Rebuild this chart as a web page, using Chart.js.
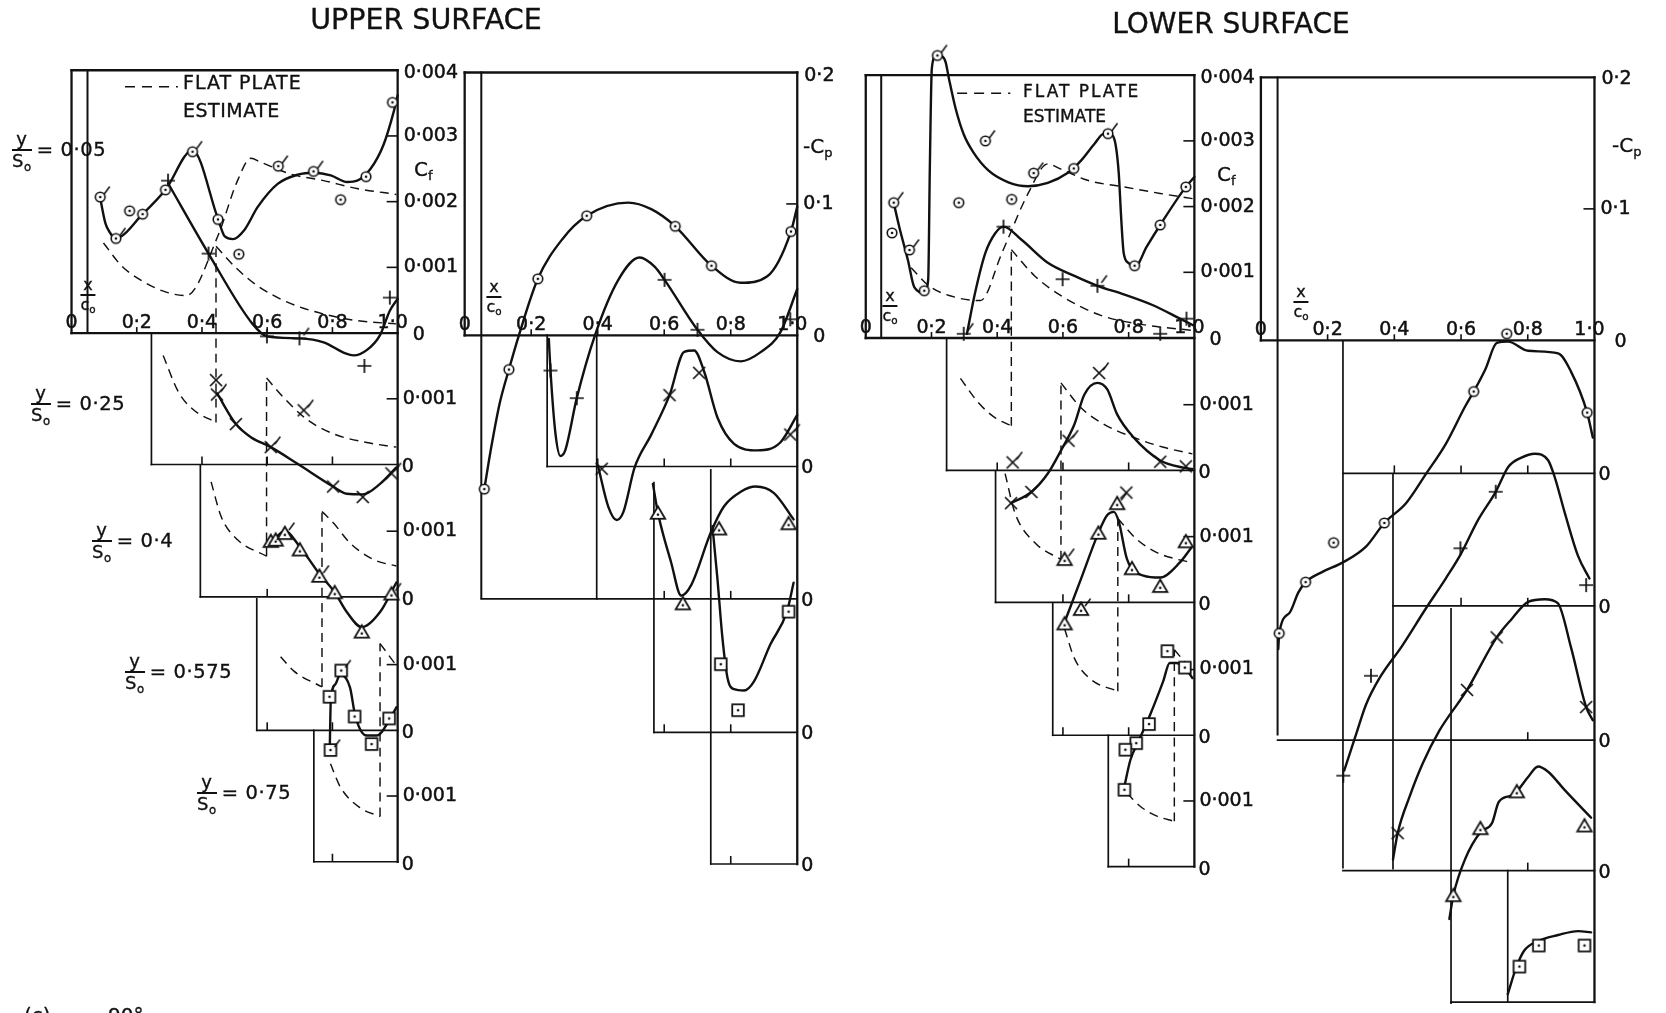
<!DOCTYPE html>
<html><head><meta charset="utf-8"><title>Skin friction and pressure distributions - upper and lower surface</title>
<script src="https://cdn.jsdelivr.net/npm/chart.js@4.4.1/dist/chart.umd.min.js"></script>
<style>
html,body{margin:0;padding:0;background:#fff;overflow:hidden}
#wrap{position:relative;width:1666px;height:1013px;overflow:hidden;background:#fff}
#c{position:absolute;left:0;top:0}
.t{position:absolute;font-family:"DejaVu Sans",sans-serif;color:#111;line-height:1;white-space:nowrap;-webkit-text-stroke:0.35px #111}
.st{display:flex;align-items:center;transform:translateY(-50%);font-size:19.5px;letter-spacing:0.6px}
.fr{display:inline-flex;flex-direction:column;align-items:center;font-size:18px;margin-right:5px;line-height:1}
.fr .n{border-bottom:2px solid #111;padding:0 2px 1px;align-self:stretch;text-align:center}
.fr .d{padding-top:1px}
.fr sub,.cl sub{font-size:0.65em;vertical-align:-0.3em;line-height:0}
.xc{transform:translate(-50%,-50%)}
</style></head>
<body><div id="wrap"><canvas id="c" width="1666" height="1013"></canvas>
<div class="t" style="left:426px;top:6px;font-size:28.5px;transform:translateX(-50%)">UPPER SURFACE</div>
<div class="t" style="left:1231px;top:10px;font-size:28px;transform:translateX(-50%)">LOWER SURFACE</div>
<div class="t" style="left:183px;top:73px;font-size:19px;letter-spacing:1px">FLAT PLATE</div>
<div class="t" style="left:183px;top:101px;font-size:19px;letter-spacing:0.5px">ESTIMATE</div>
<div class="t" style="left:1023px;top:83px;font-size:17px;letter-spacing:2px">FLAT PLATE</div>
<div class="t" style="left:1023px;top:108px;font-size:17px">ESTIMATE</div>
<div class="t cl" style="left:414px;top:159px;font-size:20px">C<sub>f</sub></div>
<div class="t cl" style="left:1217px;top:164px;font-size:20px">C<sub>f</sub></div>
<div class="t cl" style="left:803px;top:136px;font-size:20px">-C<sub>p</sub></div>
<div class="t cl" style="left:1612px;top:135px;font-size:20px">-C<sub>p</sub></div>
<div class="t" style="left:24px;top:1005px;font-size:20px">(c)</div>
<div class="t" style="left:108px;top:1005px;font-size:20px">90°</div>
</div>
<script>
// ===================== DATA =====================
const xTickValues = [0, 0.2, 0.4, 0.6, 0.8, 1.0];
const xTickLabels = ['0', '0·2', '0·4', '0·6', '0·8', '1·0'];
const cfTickValues = [0, 0.001, 0.002, 0.003, 0.004];
const cfTickLabels = ['0', '0·001', '0·002', '0·003', '0·004'];
const cpTickValues = [0, 0.1, 0.2];
const cpTickLabels = ['0', '0·1', '0·2'];
const stationLabels = ['0·05', '0·25', '0·4', '0·575', '0·75'];

// ---- Upper surface, Cf  ([x/c0, Cf, flag]) ----
const uCfPts05 = [[0.088,0.00207,1],[0.136,0.00144,1],[0.178,0.00186,0],[0.218,0.00181,0],[0.288,0.00218,0],[0.371,0.00276,1],[0.449,0.00173,0],[0.513,0.0012,0],[0.634,0.00254,1],[0.742,0.00246,1],[0.825,0.00203,0],[0.903,0.00238,0],[0.984,0.00351,0]];
const uCfLine05 = [[0.088,0.00205],[0.104,0.00167],[0.119,0.00152],[0.134,0.00144],[0.218,0.00181],[0.288,0.00218],[0.371,0.00278],[0.449,0.00174],[0.47,0.00147],[0.495,0.00143],[0.53,0.00157],[0.571,0.00192],[0.632,0.00227],[0.693,0.00241],[0.744,0.00244],[0.795,0.0024],[0.845,0.0023],[0.876,0.00232],[0.917,0.0025],[0.957,0.00287],[0.988,0.00337],[1.0,0.00362]];
const uCfFlat05 = [[0.098,0.00137],[0.154,0.00102],[0.225,0.00077],[0.286,0.00063],[0.352,0.00057],[0.448,0.00147],[0.509,0.00232],[0.55,0.00266],[0.58,0.0026],[0.672,0.00242],[0.773,0.00232],[0.875,0.0022],[0.996,0.00211]];

const uCfPts25 = [[0.296,0.00432,0],[0.42,0.00321,0],[0.599,0.00195,0],[0.699,0.00192,1],[0.898,0.0015,0],[0.976,0.00254,0]];
const uCfLine25 = [[0.296,0.00428],[0.42,0.00321],[0.555,0.00214],[0.6,0.00195],[0.7,0.00192],[0.773,0.00186],[0.84,0.00169],[0.865,0.00166],[0.905,0.00174],[0.946,0.00197],[0.976,0.00234],[1.0,0.00252]];
const uCfFlat25 = [[0.281,0.00166],[0.327,0.00111],[0.372,0.00084],[0.443,0.00064],[0.443,0.00332],[0.509,0.00297],[0.57,0.00272],[0.662,0.00247],[0.773,0.00229],[0.875,0.00219],[0.996,0.00214]];

const uCfPts40 = [[0.443,0.0033,0],[0.446,0.00308,1],[0.504,0.00263,0],[0.611,0.00228,1],[0.712,0.00284,1],[0.802,0.00168,0],[0.893,0.00152,0],[0.981,0.00188,1]];
const uCfLine40 = [[0.446,0.0031],[0.504,0.00263],[0.55,0.00243],[0.611,0.00228],[0.692,0.00203],[0.802,0.00168],[0.844,0.00157],[0.893,0.00156],[0.946,0.00172],[0.996,0.00197]];
const uCfFlat40 = [[0.428,0.00175],[0.459,0.00122],[0.509,0.00087],[0.598,0.00062],[0.598,0.00333],[0.651,0.00303],[0.722,0.0027],[0.804,0.00248],[0.905,0.00235],[0.996,0.00228]];

const uCfPts575 = [[0.611,0.00288,0],[0.626,0.0029,0],[0.654,0.003,1],[0.7,0.00275,0],[0.76,0.00235,1],[0.807,0.0021,0],[0.89,0.0015,0],[0.981,0.00208,1]];
const uCfLine575 = [[0.611,0.00285],[0.654,0.00303],[0.702,0.00278],[0.76,0.00238],[0.807,0.0021],[0.844,0.0018],[0.89,0.00157],[0.946,0.0018],[0.996,0.00225]];
const uCfFlat575 = [[0.641,0.00112],[0.682,0.0009],[0.768,0.00066],[0.768,0.00333],[0.804,0.00315],[0.854,0.00285],[0.925,0.0026],[0.996,0.0025]];

const uCfPts75 = [[0.791,0.00251,0],[0.827,0.00291,1],[0.868,0.00221,0],[0.92,0.00179,0],[0.974,0.00218,0],[0.794,0.0017,1]];
const uCfLine75 = [[0.792,0.00177],[0.795,0.00245],[0.809,0.0027],[0.824,0.00285],[0.854,0.00265],[0.87,0.00222],[0.905,0.00192],[0.936,0.00192],[0.976,0.00217],[0.996,0.00235]];
const uCfFlat75 = [[0.794,0.00149],[0.824,0.00114],[0.885,0.00082],[0.946,0.00069],[0.946,0.00332],[0.991,0.00302]];

// ---- Upper surface, -Cp ----
const uCpPts05 = [[0.059,-0.117,0],[0.133,-0.026,0],[0.22,0.043,0],[0.367,0.091,0],[0.633,0.083,0],[0.742,0.053,0],[0.981,0.079,0]];
const uCpLine05 = [[0.059,-0.117],[0.08,-0.085],[0.105,-0.052],[0.133,-0.026],[0.163,0.0],[0.22,0.043],[0.293,0.073],[0.367,0.091],[0.492,0.101],[0.561,0.096],[0.633,0.083],[0.742,0.053],[0.83,0.04],[0.91,0.045],[0.981,0.079],[1.0,0.098]];
const uCpPts25 = [[0.258,0.073,0],[0.337,0.052,0],[0.601,0.142,0],[0.7,0.104,0],[0.979,0.112,0]];
const uCpLine25 = [[0.253,0.097],[0.258,0.073],[0.273,0.025],[0.288,0.008],[0.302,0.012],[0.337,0.052],[0.392,0.1],[0.462,0.142],[0.526,0.159],[0.571,0.152],[0.601,0.142],[0.7,0.104],[0.76,0.087],[0.83,0.08],[0.89,0.087],[0.949,0.102],[1.0,0.135]];
const uCpPts40 = [[0.412,0.099,0],[0.616,0.155,0],[0.705,0.172,0],[0.979,0.125,1]];
const uCpLine40 = [[0.402,0.1],[0.432,0.07],[0.457,0.06],[0.477,0.066],[0.511,0.1],[0.561,0.125],[0.616,0.155],[0.66,0.188],[0.69,0.189],[0.72,0.173],[0.76,0.138],[0.81,0.118],[0.88,0.113],[0.949,0.119],[1.0,0.14]];
const uCpPts575 = [[0.581,0.167,0],[0.656,0.098,0],[0.765,0.155,0],[0.974,0.159,0]];
const uCpLine575 = [[0.566,0.189],[0.581,0.167],[0.621,0.129],[0.651,0.104],[0.681,0.112],[0.74,0.152],[0.78,0.172],[0.83,0.183],[0.875,0.187],[0.93,0.182],[0.989,0.162]];
const uCpPts75 = [[0.77,0.152,0],[0.822,0.117,0],[0.974,0.192,0]];
const uCpLine75 = [[0.745,0.257],[0.76,0.217],[0.775,0.172],[0.79,0.142],[0.81,0.133],[0.84,0.132],[0.87,0.139],[0.919,0.167],[0.969,0.192],[0.989,0.214]];

// ---- Lower surface, Cf ----
const lCfPts05 = [[0.085,0.00206,1],[0.08,0.0016,0],[0.133,0.00134,1],[0.178,0.00072,0],[0.218,0.0043,1],[0.283,0.00206,0],[0.364,0.003,1],[0.444,0.00211,0],[0.511,0.00251,1],[0.633,0.00258,0],[0.737,0.00311,1],[0.818,0.0011,0],[0.896,0.00172,0],[0.974,0.0023,0]];
const lCfLine05 = [[0.085,0.00206],[0.102,0.00169],[0.128,0.00119],[0.148,0.00077],[0.178,0.00069],[0.19,0.00089],[0.195,0.0026],[0.201,0.0041],[0.213,0.00429],[0.233,0.00428],[0.243,0.0042],[0.253,0.00395],[0.273,0.0035],[0.298,0.0031],[0.328,0.00282],[0.373,0.00255],[0.434,0.00237],[0.494,0.00231],[0.554,0.00236],[0.614,0.00251],[0.655,0.0027],[0.695,0.00295],[0.725,0.00311],[0.745,0.0031],[0.76,0.00295],[0.77,0.0025],[0.777,0.00185],[0.785,0.00129],[0.8,0.00114],[0.82,0.00109],[0.855,0.00139],[0.896,0.00172],[0.974,0.0023],[1.0,0.00245]];
const lCfFlat05 = [[0.138,0.00107],[0.193,0.00079],[0.273,0.00062],[0.349,0.00057],[0.414,0.00129],[0.494,0.0022],[0.554,0.00265],[0.594,0.00257],[0.675,0.0024],[0.785,0.0023],[0.896,0.0022],[0.996,0.00212]];

const lCfPts25 = [[0.298,0.00208,1],[0.419,0.00371,0],[0.599,0.00291,0],[0.705,0.00281,1],[0.896,0.00208,0],[0.976,0.00231,0]];
const lCfLine25 = [[0.308,0.00208],[0.333,0.00271],[0.364,0.00331],[0.394,0.00361],[0.419,0.00371],[0.474,0.00351],[0.554,0.00316],[0.635,0.00296],[0.705,0.00281],[0.785,0.00268],[0.876,0.00251],[0.956,0.00231],[0.996,0.00221]];
const lCfFlat25 = [[0.288,0.0014],[0.343,0.00103],[0.394,0.0008],[0.443,0.00068],[0.443,0.00336],[0.514,0.00296],[0.594,0.00266],[0.715,0.00236],[0.855,0.00221],[0.996,0.00213]];

const lCfPts40 = [[0.447,0.00213,1],[0.442,0.00151,0],[0.504,0.00168,0],[0.617,0.00246,1],[0.71,0.00349,1],[0.793,0.00167,0],[0.896,0.00214,0],[0.974,0.00207,0]];
const lCfLine40 = [[0.442,0.00151],[0.504,0.00168],[0.554,0.00196],[0.594,0.00231],[0.635,0.00271],[0.665,0.00316],[0.705,0.00334],[0.735,0.00324],[0.765,0.00286],[0.815,0.00251],[0.896,0.00216],[0.966,0.00205],[0.994,0.00203]];
const lCfFlat40 = [[0.424,0.00196],[0.454,0.00136],[0.514,0.00091],[0.594,0.00065],[0.594,0.00334],[0.655,0.00296],[0.725,0.00271],[0.815,0.00251],[0.906,0.00236],[0.994,0.00226]];

const lCfPts575 = [[0.605,0.00268,1],[0.708,0.00308,0],[0.765,0.00353,1],[0.81,0.00254,0],[0.896,0.00227,0],[0.974,0.00295,0],[0.655,0.00192,1],[0.605,0.0017,0]];
const lCfLine575 = [[0.605,0.00172],[0.655,0.00238],[0.708,0.00308],[0.735,0.00335],[0.755,0.0034],[0.77,0.00325],[0.795,0.00268],[0.845,0.00243],[0.896,0.0024],[0.956,0.00263],[0.99,0.00285]];
const lCfFlat575 = [[0.605,0.00162],[0.635,0.00117],[0.685,0.00085],[0.767,0.00067],[0.767,0.0033],[0.825,0.00298],[0.886,0.00278],[0.946,0.00268],[0.991,0.00263]];

const lCfPts75 = [[0.918,0.00328,0],[0.971,0.00303,0],[0.862,0.00217,0],[0.823,0.00188,0],[0.79,0.00178,0],[0.787,0.00117,0]];
const lCfLine75 = [[0.787,0.00122],[0.805,0.00162],[0.83,0.00191],[0.866,0.00232],[0.905,0.00282],[0.925,0.0031],[0.946,0.0031],[0.976,0.003],[0.994,0.00287]];
const lCfFlat75 = [[0.795,0.00112],[0.835,0.00092],[0.886,0.00077],[0.939,0.00069],[0.939,0.0033],[0.991,0.003]];

// ---- Lower surface, -Cp ----
const lCpPts05 = [[0.055,-0.223,0],[0.134,-0.184,0],[0.218,-0.154,0],[0.37,-0.139,0],[0.638,-0.039,0],[0.737,0.005,0],[0.978,-0.055,0]];
const lCpLine05 = [[0.052,-0.235],[0.055,-0.223],[0.087,-0.207],[0.112,-0.192],[0.134,-0.184],[0.186,-0.176],[0.246,-0.169],[0.315,-0.157],[0.37,-0.139],[0.435,-0.124],[0.494,-0.102],[0.554,-0.079],[0.613,-0.05],[0.638,-0.039],[0.673,-0.022],[0.707,-0.002],[0.741,-0.001],[0.801,-0.008],[0.891,-0.01],[0.93,-0.024],[0.978,-0.055],[0.995,-0.074]];
const lCpPts25 = [[0.247,-0.23,0],[0.33,-0.154,0],[0.598,-0.057,0],[0.704,-0.014,0],[0.975,-0.085,0]];
const lCpLine25 = [[0.25,-0.226],[0.286,-0.198],[0.315,-0.176],[0.355,-0.156],[0.424,-0.131],[0.494,-0.103],[0.554,-0.08],[0.598,-0.062],[0.652,-0.035],[0.704,-0.014],[0.742,0.005],[0.781,0.012],[0.821,0.015],[0.861,0.01],[0.881,-0.003],[0.911,-0.03],[0.951,-0.063],[0.985,-0.08]];
const lCpPts40 = [[0.41,-0.173,0],[0.618,-0.064,0],[0.707,-0.024,0],[0.975,-0.077,0]];
const lCpLine40 = [[0.396,-0.193],[0.41,-0.173],[0.446,-0.145],[0.485,-0.12],[0.535,-0.095],[0.618,-0.064],[0.707,-0.024],[0.752,-0.01],[0.801,0.003],[0.851,0.005],[0.89,0.002],[0.93,-0.032],[0.975,-0.077],[0.995,-0.087]];
const lCpPts575 = [[0.577,-0.118,0],[0.658,-0.067,0],[0.767,-0.039,0],[0.97,-0.065,0]];
const lCpLine575 = [[0.565,-0.136],[0.577,-0.118],[0.613,-0.09],[0.658,-0.07],[0.693,-0.063],[0.713,-0.047],[0.752,-0.042],[0.767,-0.039],[0.801,-0.028],[0.831,-0.02],[0.861,-0.024],[0.911,-0.038],[0.99,-0.059]];
const lCpPts75 = [[0.775,-0.073,0],[0.833,-0.057,0],[0.97,-0.057,0]];
const lCpLine75 = [[0.74,-0.094],[0.765,-0.074],[0.789,-0.061],[0.827,-0.054],[0.891,-0.049],[0.951,-0.046],[0.99,-0.047]];

// ===================== LAYOUT =====================
const W = 1666, H = 1013, INK = '#111';
const LE_U = [0.049,0.245,0.395,0.568,0.743], LE_UP = [0.05,0.248,0.397,0.569,0.74];
const LE_L = [0.047,0.246,0.395,0.569,0.738], LE_LP = [0.05,0.246,0.396,0.57,0.74];
const TOPW = 2.3, LOWW = 1.7;

function cfFrames(le){
  const f = [[0,0,0,0,0,0.004,TOPW],[0,0,0.004,0,1,0.004,TOPW],[0,0,0,0,1,0,TOPW],[0,le[0],0,0,le[0],0.004,2.0],[0,1,0.004,4,1,0,TOPW]];
  for(let k=1;k<5;k++){ f.push([k,le[k],0.002,k,le[k],0]); f.push([k,le[k],0,k,1,0]); }
  return f;
}
function cfRight(topZeroDx){
  const r=[]; for(let i=4;i>=1;i--) r.push([0,cfTickValues[i],cfTickLabels[i],6,i===4?3:0]);
  r.push([0,0,cfTickLabels[0],topZeroDx,2]);
  for(let k=1;k<5;k++){ r.push([k,cfTickValues[1],cfTickLabels[1],5,0]); r.push([k,0,cfTickLabels[0],4,3]); }
  return r;
}
function cpRight(topZeroDx, topDy){
  const r=[[0,cpTickValues[2],cpTickLabels[2],7,topDy],[0,cpTickValues[1],cpTickLabels[1],6,0],[0,0,cpTickLabels[0],topZeroDx,2]];
  for(let k=1;k<5;k++) r.push([k,0,cpTickLabels[0],4,2]);
  return r;
}
const cfTicks = [[0,0.001],[0,0.002],[0,0.003],[1,0.001],[2,0.001],[3,0.001],[4,0.001]];
const GEO = [
  {x0:66, x1:394.5, zeros:[331,464,598,733,866], ppu:66500, le:LE_U, frames:cfFrames(LE_U), rTicks:cfTicks, rLabels:cfRight(15)},
  {x0:462, x1:797, zeros:[333.3,466,600,735,868.3], ppu:1330, le:LE_UP,
   frames:[[0,0,0,0,0,0.2,TOPW],[0,0,0.2,0,1,0.2,TOPW],[0,0,0,0,1,0,TOPW],[0,LE_UP[0],0.2,0,LE_UP[0],-0.2,2.0],[0,1,0.2,4,1,0,TOPW],
     [1,LE_UP[1],0.1,1,LE_UP[1],0],[1,LE_UP[1],0,1,1,0],
     [2,LE_UP[2],0.2,2,LE_UP[2],0],[2,LE_UP[0],0,2,1,0],
     [3,LE_UP[3],0.19,3,LE_UP[3],0],[3,LE_UP[3],0,3,1,0],
     [4,LE_UP[4],0.3,4,LE_UP[4],0],[4,LE_UP[4],0,4,1,0]],
   rTicks:[[0,0.1]], rLabels:cpRight(16,4)},
  {x0:866, x1:1197, zeros:[336,470,603.5,738,871], ppu:66500, le:LE_L, frames:cfFrames(LE_L), rTicks:cfTicks, rLabels:cfRight(15)},
  {x0:1264, x1:1600, zeros:[338.3,473,607,743,875], ppu:1330, le:LE_LP,
   frames:[[0,0,0,0,0,0.2,TOPW],[0,0,0.2,0,1,0.2,TOPW],[0,0,0,0,1,0,TOPW],[0,LE_LP[0],0.2,0,LE_LP[0],-0.3,2.0],[0,1,0.2,4,1,-0.1,TOPW],
     [1,LE_LP[1],0.1,1,LE_LP[1],-0.3],[1,LE_LP[1],0,1,1,0],
     [2,LE_LP[2],0.1,2,LE_LP[2],-0.2],[2,LE_LP[2],0,2,1,0],
     [3,LE_LP[3],0.1,3,LE_LP[3],-0.2],[3,LE_LP[0],0,3,1,0],
     [4,LE_LP[4],0,4,LE_LP[4],-0.1],[4,LE_LP[1],0,4,1,0],[4,LE_LP[3],-0.1,4,1,-0.1]],
   rTicks:[[0,0.1]], rLabels:cpRight(20,2)}
];
const LEGEND_DASH = [[0,0.164,0.326,0.00375],[2,0.278,0.44,0.003725]];
const STATION_POS = [[12,150],[31,404],[92,541],[125,672],[197,793]];
const XC_POS = [[88,295],[494,297],[890,306],[1301,302]];

// ===================== TEXT LABELS =====================
const wrap = document.getElementById('wrap');
stationLabels.forEach((s,i)=>{
  const d=document.createElement('div'); d.className='t st';
  d.style.left=STATION_POS[i][0]+'px'; d.style.top=STATION_POS[i][1]+'px';
  d.innerHTML='<span class="fr"><span class="n">y</span><span class="d">S<sub>o</sub></span></span><span>= '+s+'</span>';
  wrap.appendChild(d);
});
XC_POS.forEach(p=>{
  const d=document.createElement('div'); d.className='t xc';
  d.style.left=p[0]+'px'; d.style.top=p[1]+'px';
  d.innerHTML='<span class="fr" style="font-size:16px;margin:0"><span class="n">x</span><span class="d">c<sub>o</sub></span></span>';
  wrap.appendChild(d);
});

// ===================== MARKERS =====================
function mk(type, flag){
  const c=document.createElement('canvas'); c.width=c.height=32;
  const x=c.getContext('2d'); x.translate(16,16); x.strokeStyle=INK; x.fillStyle=INK; x.lineWidth=1.6;
  const dot=(dy)=>{x.beginPath();x.arc(0,dy||0,1.3,0,2*Math.PI);x.fillStyle=INK;x.fill();};
  x.beginPath();
  if(type==='circ'){x.arc(0,0,4.8,0,2*Math.PI);x.fillStyle='#fff';x.fill();x.stroke();dot();}
  else if(type==='plus'){x.lineWidth=1.7;x.moveTo(-7,0);x.lineTo(7,0);x.moveTo(0,-7);x.lineTo(0,7);x.stroke();}
  else if(type==='cross'){x.lineWidth=1.7;x.moveTo(-6,-6);x.lineTo(6,6);x.moveTo(6,-6);x.lineTo(-6,6);x.stroke();}
  else if(type==='tri'){x.moveTo(0,-6.5);x.lineTo(7.2,5.8);x.lineTo(-7.2,5.8);x.closePath();x.fillStyle='#fff';x.fill();x.lineWidth=1.8;x.stroke();dot(1.8);}
  else if(type==='sq'){x.rect(-5.8,-5.8,11.6,11.6);x.fillStyle='#fff';x.fill();x.lineWidth=1.8;x.stroke();dot();}
  if(flag){x.beginPath();x.lineWidth=1.5;x.moveTo(4,-3);x.lineTo(9.5,-10.5);x.stroke();}
  return c;
}
const MK={};
['circ','plus','cross','tri','sq'].forEach(t=>{MK[t]=mk(t,false);MK[t+'F']=mk(t,true);});

// ===================== DATASETS =====================
const SERIES = [
  [0,0,'circ',uCfPts05,uCfLine05,uCfFlat05],[0,1,'plus',uCfPts25,uCfLine25,uCfFlat25],[0,2,'cross',uCfPts40,uCfLine40,uCfFlat40],[0,3,'tri',uCfPts575,uCfLine575,uCfFlat575],[0,4,'sq',uCfPts75,uCfLine75,uCfFlat75],
  [1,0,'circ',uCpPts05,uCpLine05,null],[1,1,'plus',uCpPts25,uCpLine25,null],[1,2,'cross',uCpPts40,uCpLine40,null],[1,3,'tri',uCpPts575,uCpLine575,null],[1,4,'sq',uCpPts75,uCpLine75,null],
  [2,0,'circ',lCfPts05,lCfLine05,lCfFlat05],[2,1,'plus',lCfPts25,lCfLine25,lCfFlat25],[2,2,'cross',lCfPts40,lCfLine40,lCfFlat40],[2,3,'tri',lCfPts575,lCfLine575,lCfFlat575],[2,4,'sq',lCfPts75,lCfLine75,lCfFlat75],
  [3,0,'circ',lCpPts05,lCpLine05,null],[3,1,'plus',lCpPts25,lCpLine25,null],[3,2,'cross',lCpPts40,lCpLine40,null],[3,3,'tri',lCpPts575,lCpLine575,null],[3,4,'sq',lCpPts75,lCpLine75,null]
];
function splitRuns(a){
  const out=[]; let cur=[a[0]];
  for(let i=1;i<a.length;i++){
    if(a[i][0]===a[i-1][0]){ out.push(cur); out.push([a[i-1],a[i]]); cur=[a[i]]; } else cur.push(a[i]);
  }
  out.push(cur); return out.filter(r=>r.length>1);
}
const xy = a => a.map(p=>({x:p[0],y:p[1]}));
const datasets=[];
SERIES.forEach(([g,k,m,pts,line,flat])=>{
  const ax={xAxisID:'x'+g, yAxisID:'y'+g+k};
  datasets.push(Object.assign({},ax,{label:'curve '+g+k,order:1,data:xy(line),borderColor:INK,borderWidth:2.4,pointRadius:0,fill:false,cubicInterpolationMode:'monotone',borderJoinStyle:'round',borderCapStyle:'round'}));
  if(flat) splitRuns(flat).forEach(run=>datasets.push(Object.assign({},ax,{label:'flat plate '+g+k,order:2,data:xy(run),borderColor:INK,borderWidth:1.45,borderDash:[9,6],pointRadius:0,fill:false,cubicInterpolationMode:'monotone'})));
  datasets.push(Object.assign({},ax,{label:'points '+g+k,order:0,data:pts.map(p=>({x:p[0],y:p[1],f:p[2]})),showLine:false,pointRadius:5,
    pointStyle:c=>(c.raw&&c.raw.f)?MK[m+'F']:MK[m]}));
});

// ===================== SCALES =====================
const scales={};
GEO.forEach((G,g)=>{
  const u=G.x1-G.x0;
  scales['x'+g]={type:'linear',display:false,min:-G.x0/u,max:(W-G.x0)/u};
  G.zeros.forEach((z,k)=>{ scales['y'+g+k]={type:'linear',display:false,min:(z-H)/G.ppu,max:z/G.ppu}; });
});

function P(ch,g,k,x,y){return [ch.scales['x'+g].getPixelForValue(x), ch.scales['y'+g+k].getPixelForValue(y)];}
function seg(c,a,b){c.beginPath();c.moveTo(a[0],a[1]);c.lineTo(b[0],b[1]);c.stroke();}
const paper={
  id:'paper',
  beforeDatasetsDraw(ch){
    const c=ch.ctx; c.save(); c.strokeStyle=INK; c.lineCap='square';
    GEO.forEach((G,g)=>{
      G.frames.forEach(f=>{c.lineWidth=f[6]||LOWW; seg(c,P(ch,g,f[0],f[1],f[2]),P(ch,g,f[3],f[4],f[5]));});
      c.lineWidth=1.6; c.lineCap='butt';
      G.rTicks.forEach(([k,v])=>{const a=P(ch,g,k,1,v); seg(c,[a[0]-11,a[1]],a);});
      G.zeros.forEach((z,k)=>{ if(k===0) return;
        [0.4,0.6,0.8].forEach(x=>{ if(x>G.le[k]+0.03){const a=P(ch,g,k,x,0); seg(c,a,[a[0],a[1]-8]);} }); });
      [0.2,0.4,0.6,0.8].forEach(x=>{const a=P(ch,g,0,x,0); seg(c,a,[a[0],a[1]-6]);});
      c.lineCap='square';
    });
    c.lineWidth=1.5; c.setLineDash([10,7]); c.lineCap='butt';
    LEGEND_DASH.forEach(([g,xa,xb,y])=>seg(c,P(ch,g,0,xa,y),P(ch,g,0,xb,y)));
    c.restore();
  },
  afterDatasetsDraw(ch){
    const c=ch.ctx; c.save(); c.fillStyle=INK; c.strokeStyle=INK; c.lineWidth=0.5; c.font='19px "DejaVu Sans"'; c.textBaseline='middle';
    const txt=(s,x,y)=>{c.fillText(s,x,y); c.strokeText(s,x,y);};
    GEO.forEach((G,g)=>{
      c.textAlign='center';
      xTickValues.forEach((v,i)=>{const a=P(ch,g,0,v,0); txt(xTickLabels[i],a[0]+(i===5?-5:0),a[1]-10);});
      c.textAlign='left';
      G.rLabels.forEach(([k,v,lab,dx,dy])=>{const a=P(ch,g,k,1,v); txt(lab,a[0]+dx,a[1]+dy);});
    });
    c.restore();
  }
};

new Chart(document.getElementById('c'),{
  type:'line',
  data:{datasets},
  options:{responsive:false,maintainAspectRatio:false,animation:false,devicePixelRatio:1,events:[],
    layout:{padding:0},
    plugins:{legend:{display:false},tooltip:{enabled:false},title:{display:false}},
    scales},
  plugins:[paper]
});
</script></body></html>
